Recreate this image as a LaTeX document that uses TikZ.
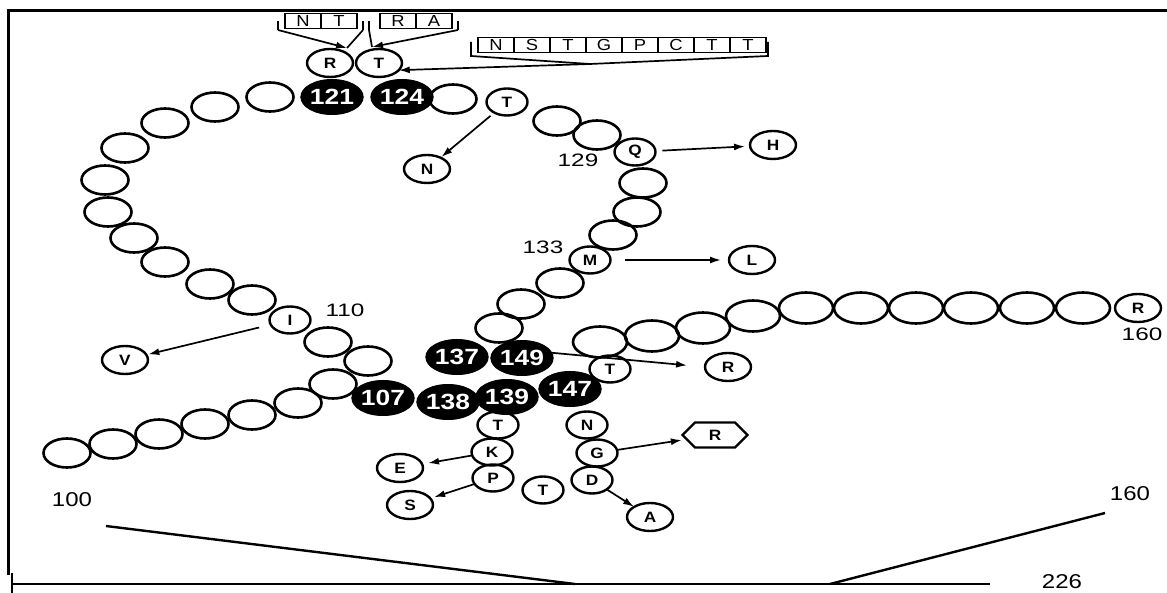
\documentclass[tikz,border=0pt]{standalone}
\usepackage{fontspec}
\setmainfont{Liberation Sans}
\usetikzlibrary{arrows.meta,shapes.geometric,shapes.symbols}
\newcommand\wx[2]{\scalebox{#1}[1]{#2}}
\begin{document}
\begin{tikzpicture}[x=1pt,y=-1pt,
  every node/.style={inner sep=0pt,outer sep=0pt},
  big/.style={draw,ellipse,line width=2.6pt,minimum width=47pt,minimum height=29pt},
  rbig/.style={draw,ellipse,line width=2.6pt,minimum width=54pt,minimum height=31pt},
  blk/.style={draw,fill=black,ellipse,line width=1pt,minimum width=60pt,minimum height=35pt,text=white,font=\fontsize{22}{22}\selectfont\bfseries},
  let/.style={draw,ellipse,line width=2.4pt,minimum width=41pt,minimum height=27pt,font=\fontsize{15}{15}\selectfont\bfseries},
  sub/.style={draw,ellipse,line width=2.4pt,minimum width=46pt,minimum height=28pt,font=\fontsize{15}{15}\selectfont\bfseries},
  cell/.style={draw,rectangle,line width=1.8pt,minimum width=36pt,minimum height=15pt,font=\fontsize{16}{16}\selectfont},
  lab/.style={font=\fontsize{18}{18}\selectfont},
  blab/.style={font=\fontsize{20}{20}\selectfont},
  arr/.style={-{Latex[length=11pt,width=7pt]},line width=1.7pt},
  brk/.style={line width=1.7pt}
]
\useasboundingbox (0,0) rectangle (1167,593);
% frame
\coordinate (f1) at (8,575);
\coordinate (f2) at (8,11);
\coordinate (f3) at (1167,11);
\draw[line width=3pt] (f1) -- (f2) -- (f3);

% top boxes
\node[cell] (bn1) at (303,21) {\wx{1.15}{N}};
\node[cell] (bt1) at (339,21) {\wx{1.15}{T}};
\node[cell] (br1) at (398,21) {\wx{1.15}{R}};
\node[cell] (ba1) at (434,21) {\wx{1.15}{A}};
\node[cell] (s1) at (496,45) {\wx{1.15}{N}};
\node[cell] (s2) at (532,45) {\wx{1.15}{S}};
\node[cell] (s3) at (568,45) {\wx{1.15}{T}};
\node[cell] (s4) at (604,45) {\wx{1.15}{G}};
\node[cell] (s5) at (640,45) {\wx{1.15}{P}};
\node[cell] (s6) at (676,45) {\wx{1.15}{C}};
\node[cell] (s7) at (712,45) {\wx{1.15}{T}};
\node[cell] (s8) at (748,45) {\wx{1.15}{T}};

% chain, lower left
\node[big] (c100) at (67,453) {};
\node[big] (c101) at (113,444) {};
\node[big] (c102) at (159,434) {};
\node[big] (c103) at (205,424) {};
\node[big] (c104) at (252,415) {};
\node[big] (c105) at (298,403) {};
\node[big] (c106) at (333,384) {};
% loop
\node[big] (c108) at (368,361) {};
\node[big] (c109) at (328,342) {};
\node[let] (i110) at (290,320) {\wx{1.15}{I}};
\node[big] (c111) at (252,300) {};
\node[big] (c112) at (210,284) {};
\node[big] (c113) at (165,262) {};
\node[big] (c114) at (134,238) {};
\node[big] (c115) at (108,212) {};
\node[big] (c116) at (105,180) {};
\node[big] (c117) at (125,148) {};
\node[big] (c118) at (165,123) {};
\node[big] (c119) at (215,107) {};
\node[big] (c120) at (270,97) {};
\node[blk] (b121) at (332,97) {\wx{1.2}{121}};
\node[blk] (b124) at (402,97) {\wx{1.2}{124}};
\node[big] (c125) at (453,99) {};
\node[let] (t126) at (507,102) {\wx{1.15}{T}};
\node[big] (c127) at (557,121) {};
\node[big] (c128) at (597,135) {};
\node[let] (q129) at (635,152) {\wx{1.15}{Q}};
\node[big] (c130) at (643,183) {};
\node[big] (c131) at (637,212) {};
\node[big] (c132) at (613,235) {};
\node[let] (m133) at (590,260) {\wx{1.15}{M}};
\node[big] (c134) at (560,283) {};
\node[big] (c135) at (521,304) {};
\node[big] (c136) at (499,328) {};
% core
\node[blk] (b137) at (457,357) {\wx{1.2}{137}};
\node[blk] (b149) at (522,358) {\wx{1.2}{149}};
\node[blk] (b107) at (383,398) {\wx{1.2}{107}};
\node[blk] (b138) at (448,402) {\wx{1.2}{138}};
\node[blk] (b139) at (507,397) {\wx{1.2}{139}};
\node[blk] (b147) at (570,389) {\wx{1.2}{147}};
\node[let] (t140) at (498,425) {\wx{1.15}{T}};
\node[let] (k141) at (492,452) {\wx{1.15}{K}};
\node[let] (p142) at (493,478) {\wx{1.15}{P}};
\node[let] (t143) at (543,490) {\wx{1.15}{T}};
\node[let] (d144) at (592,480) {\wx{1.15}{D}};
\node[let] (g145) at (597,453) {\wx{1.15}{G}};
\node[let] (n146) at (587,425) {\wx{1.15}{N}};
\node[let] (t148) at (610,369) {\wx{1.15}{T}};
% right chain
\node[rbig] (c150) at (600,342) {};
\node[rbig] (c151) at (652,336) {};
\node[rbig] (c152) at (703,328) {};
\node[rbig] (c153) at (753,316) {};
\node[rbig] (c154) at (806,308) {};
\node[rbig] (c155) at (861,308) {};
\node[rbig] (c156) at (916,308) {};
\node[rbig] (c157) at (971,308) {};
\node[rbig] (c158) at (1027,308) {};
\node[rbig] (c159) at (1083,308) {};
\node[sub] (r160) at (1138,308) {\wx{1.15}{R}};

% substitutions
\node[sub] (sR) at (330,63) {\wx{1.15}{R}};
\node[sub] (sT) at (379,63) {\wx{1.15}{T}};
\node[sub] (sN) at (427,169) {\wx{1.15}{N}};
\node[sub] (sH) at (773,145) {\wx{1.15}{H}};
\node[sub] (sL) at (752,260) {\wx{1.15}{L}};
\node[sub] (sV) at (125,360) {\wx{1.15}{V}};
\node[sub] (sR2) at (728,367) {\wx{1.15}{R}};
\node[sub] (sE) at (400,468) {\wx{1.15}{E}};
\node[sub] (sS) at (410,505) {\wx{1.15}{S}};
\node[sub] (sA) at (650,517) {\wx{1.15}{A}};
\node[draw,shape=signal,signal to=west and east,line width=2.2pt,minimum width=65pt,minimum height=25pt,font=\fontsize{15}{15}\selectfont\bfseries] (hexR) at (715,435) {\wx{1.15}{R}};

% labels
\node[lab] (l110) at (345,310) {\wx{1.35}{110}};
\node[lab] (l129) at (578,160) {\wx{1.35}{129}};
\node[lab] (l133) at (543,247) {\wx{1.35}{133}};
\node[lab] (l160) at (1142,334) {\wx{1.35}{160}};
\node[blab] (l100) at (72,500) {\wx{1.2}{100}};
\node[blab] (l160b) at (1130,494) {\wx{1.2}{160}};
\node[blab] (l226) at (1062,582) {\wx{1.2}{226}};

% brackets and arrows at top
\coordinate (ntlT) at (278,21); \coordinate (ntlB) at (278,30);
\coordinate (ntrT) at (363,21); \coordinate (ntrB) at (363,30);
\coordinate (ralT) at (369,21); \coordinate (ralB) at (369,30);
\coordinate (rarT) at (458,21); \coordinate (rarB) at (458,30);
\coordinate (ntip) at (347,48);
\coordinate (rtip) at (372,47);
\draw[brk] (ntlT) -- (ntlB); \draw[brk] (ntrT) -- (ntrB);
\draw[brk] (ralT) -- (ralB); \draw[brk] (rarT) -- (rarB);
\draw[brk] (ntrB) -- (ntip);
\draw[arr] (ntlB) -- (ntip);
\draw[brk] (ralB) -- (rtip);
\draw[arr] (rarB) -- (rtip);
\coordinate (slT) at (471,42); \coordinate (slB) at (471,56);
\coordinate (srT) at (768,42); \coordinate (srB) at (768,56);
\coordinate (sj) at (590,64);
\draw[brk] (slT) -- (slB) -- (sj) -- (srB) -- (srT);
\draw[arr] (sj) -- (sT.-20);

% substitution arrows
\draw[arr,shorten <=5pt,shorten >=1pt] (t126) -- (sN);
\draw[arr,shorten <=7pt,shorten >=5pt] (q129) -- (sH);
\draw[arr,shorten <=14pt,shorten >=8pt] (m133) -- (sL);
\draw[arr,shorten <=12pt,shorten >=2pt] (i110) -- (sV);
\draw[arr,shorten >=18pt] (b149.10) -- (sR2.west);
\draw[arr,shorten >=6pt] (k141) -- (sE);
\draw[arr,shorten >=4pt] (p142) -- (sS);
\draw[arr,shorten >=5pt] (g145) -- (hexR);
\draw[arr] (d144) -- (sA);

% bottom scale
\coordinate (bl0) at (12,584);
\coordinate (blT) at (12,573);
\coordinate (blB) at (12,593);
\coordinate (bl1) at (990,584);
\coordinate (m1) at (575,584);
\coordinate (m2) at (830,584);
\coordinate (d1) at (106,526);
\coordinate (d2) at (1105,513);
\draw[line width=2.4pt] (bl0) -- (bl1);
\draw[line width=2.4pt] (blT) -- (blB);
\draw[line width=2.4pt] (d1) -- (m1);
\draw[line width=2.4pt] (d2) -- (m2);
\end{tikzpicture}
\end{document}
